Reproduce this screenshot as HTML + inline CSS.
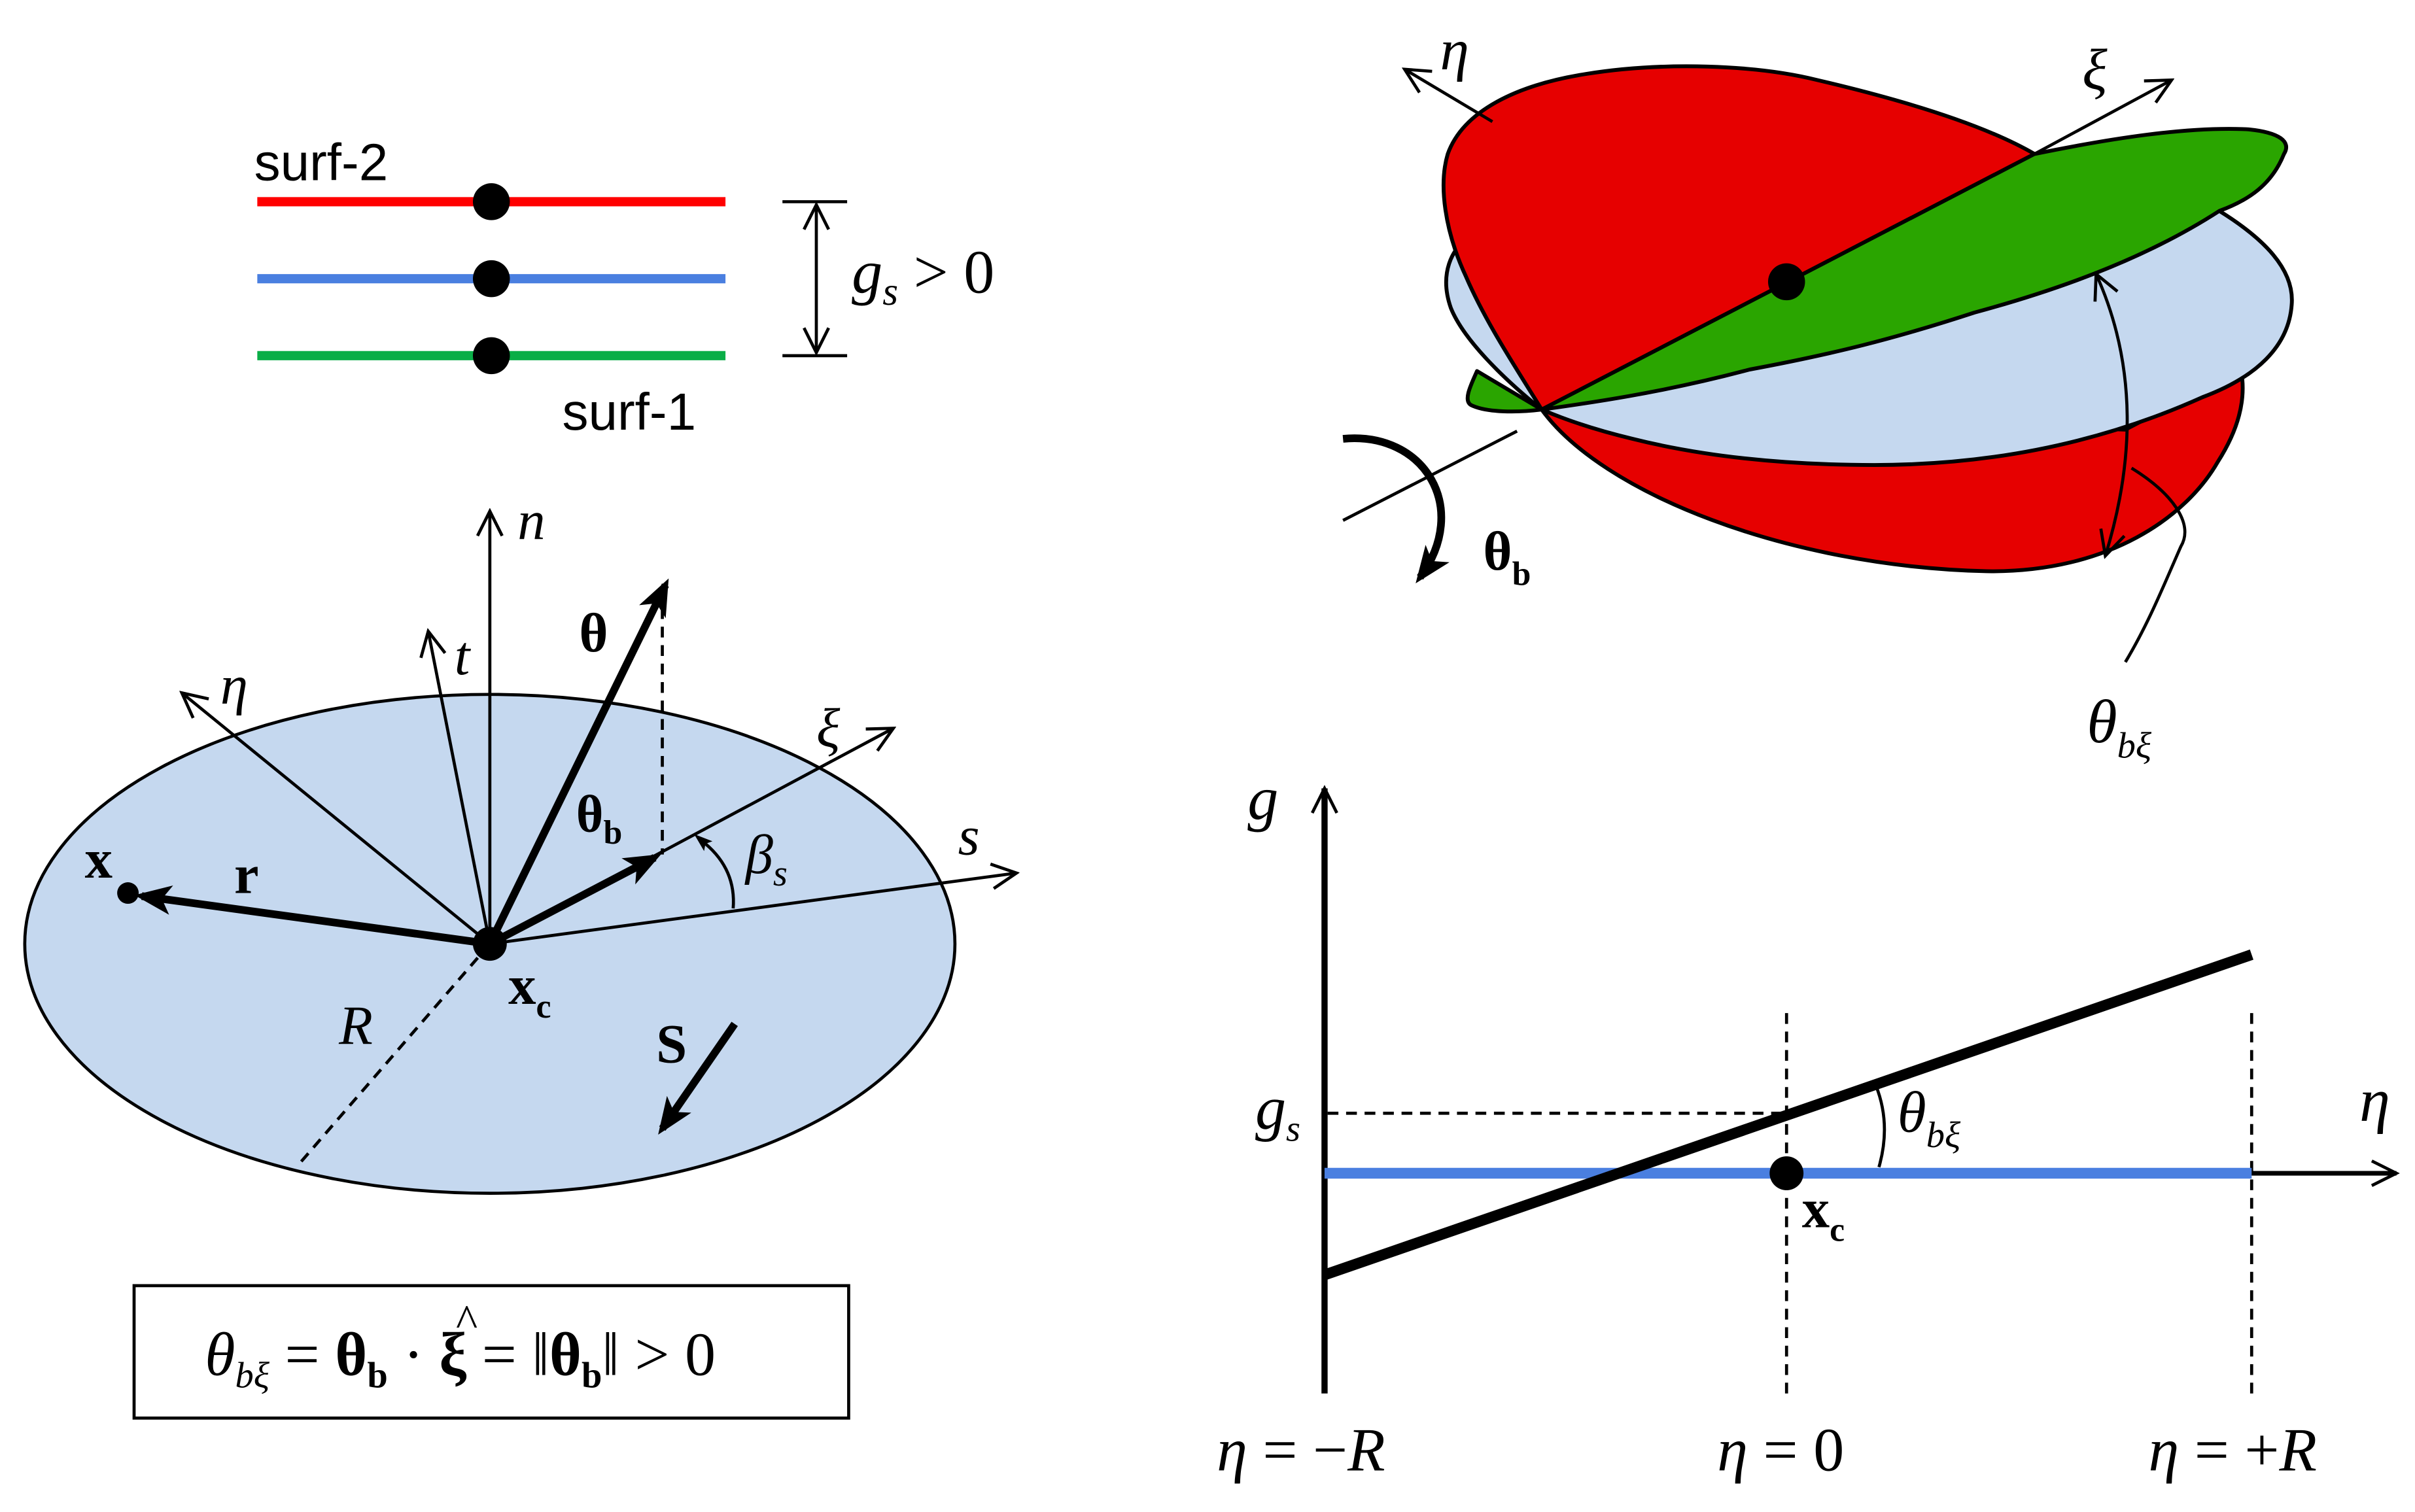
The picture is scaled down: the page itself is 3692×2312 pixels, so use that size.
<!DOCTYPE html>
<html><head><meta charset="utf-8"><style>
html,body{margin:0;padding:0;background:#fff}
svg{display:block}
text{font-family:"Liberation Serif",serif}
.i{font-style:italic}
.b{font-weight:bold}
.s{font-family:"Liberation Sans",sans-serif}
</style></head><body>
<svg width="3692" height="2312" viewBox="0 0 1568 982" xmlns="http://www.w3.org/2000/svg">
<defs>
<marker id="a" viewBox="0 0 20 20" refX="18" refY="10" markerWidth="20" markerHeight="20" markerUnits="userSpaceOnUse" orient="auto-start-reverse"><path d="M2,2 L18,10 L2,18" fill="none" stroke="#000" stroke-width="2"/></marker>
<marker id="f" viewBox="0 0 20 20" refX="16" refY="10" markerWidth="24" markerHeight="24" markerUnits="userSpaceOnUse" orient="auto"><path d="M0,2 L20,10 L0,18 L5,10 Z" fill="#000"/></marker>
<marker id="fs" viewBox="0 0 20 20" refX="4" refY="10" markerWidth="12" markerHeight="12" markerUnits="userSpaceOnUse" orient="auto-start-reverse"><path d="M0,3 L20,10 L0,17 L4,10 Z" fill="#000"/></marker>
</defs>
<rect width="1568" height="982" fill="#fff"/>

<!-- surf legend -->
<line x1="167" y1="131" x2="471" y2="131" stroke="#f00" stroke-width="6"/>
<line x1="167" y1="181" x2="471" y2="181" stroke="#4a7fe0" stroke-width="6"/>
<line x1="167" y1="231" x2="471" y2="231" stroke="#0aae47" stroke-width="6"/>
<circle cx="319" cy="131" r="12"/><circle cx="319" cy="181" r="12"/><circle cx="319" cy="231" r="12"/>
<text x="165" y="117" class="s" font-size="34">surf-2</text>
<text x="365" y="279" class="s" font-size="34">surf-1</text>
<line x1="508" y1="131" x2="550" y2="131" stroke="#000" stroke-width="2"/>
<line x1="508" y1="231" x2="550" y2="231" stroke="#000" stroke-width="2"/>
<line x1="530" y1="133" x2="530" y2="229" stroke="#000" stroke-width="2" marker-start="url(#a)" marker-end="url(#a)"/>
<text x="553" y="190" font-size="40"><tspan class="i">g</tspan><tspan class="i" font-size="26" dy="8">s</tspan><tspan dy="-8"> &gt; 0</tspan></text>

<!-- ellipse diagram -->
<ellipse cx="318" cy="613" rx="302" ry="162" fill="#c5d8ef" stroke="#000" stroke-width="2"/>
<g stroke="#000" stroke-width="2" fill="none">
<line x1="318" y1="613" x2="318" y2="332" marker-end="url(#a)"/>
<line x1="318" y1="613" x2="278" y2="410" marker-end="url(#a)"/>
<line x1="318" y1="613" x2="118" y2="450" marker-end="url(#a)"/>
<line x1="318" y1="613" x2="580" y2="473" marker-end="url(#a)"/>
<line x1="318" y1="613" x2="660" y2="567" marker-end="url(#a)"/>
<line x1="430" y1="395" x2="430" y2="555" stroke-dasharray="7,5"/>
<line x1="318" y1="613" x2="195" y2="755" stroke-dasharray="7,5"/>
<path d="M458,548 Q478,565 476,590" marker-start="url(#fs)"/>
</g>
<g stroke="#000" stroke-width="5" fill="none">
<line x1="318" y1="613" x2="432" y2="380" marker-end="url(#f)"/>
<line x1="318" y1="613" x2="425" y2="557" marker-end="url(#f)"/>
<line x1="318" y1="613" x2="92" y2="582" marker-end="url(#f)"/>
<line x1="477" y1="665" x2="430" y2="733" marker-end="url(#f)"/>
</g>
<circle cx="318" cy="613" r="11"/>
<circle cx="83" cy="580" r="7"/>
<text x="336" y="350" class="i" font-size="36">n</text>
<text x="295" y="438" class="i" font-size="36">t</text>
<text x="143" y="457" class="i" font-size="36">η</text>
<text x="376" y="423" class="b" font-size="36">θ</text>
<text x="530" y="485" class="i" font-size="36">ξ</text>
<text x="622" y="555" class="i" font-size="36">s</text>
<text x="484" y="567" font-size="36"><tspan class="i">β</tspan><tspan class="i" font-size="24" dy="8">s</tspan></text>
<text x="374" y="540" class="b" font-size="34">θ<tspan font-size="22" dy="8">b</tspan></text>
<text x="55" y="570" class="b" font-size="36">x</text>
<text x="152" y="580" class="b" font-size="36">r</text>
<text x="330" y="652" class="b" font-size="36">x<tspan font-size="22" dy="9">c</tspan></text>
<text x="220" y="678" class="i" font-size="36">R</text>
<text x="426" y="690" class="b" font-size="36">S</text>

<!-- formula box -->
<rect x="87" y="835" width="464" height="86" fill="#fff" stroke="#000" stroke-width="2"/>
<text x="133" y="893" font-size="40"><tspan class="i">θ</tspan><tspan class="i" font-size="24" dy="8">bξ</tspan><tspan dy="-8"> = </tspan><tspan class="b">θ</tspan><tspan class="b" font-size="24" dy="8">b</tspan><tspan dy="-8"> · </tspan><tspan class="b">ξ</tspan><tspan> = ‖</tspan><tspan class="b">θ</tspan><tspan class="b" font-size="24" dy="8">b</tspan><tspan dy="-8">‖ &gt; 0</tspan></text>
<text x="296" y="868" font-size="30">^</text>

<!-- 3D -->
<g stroke="#000" stroke-width="2.5" stroke-linejoin="round">
<path d="M1001,266 C1040,320 1160,368 1290,371 C1370,372 1420,335 1440,300 C1456,275 1458,255 1455,240 L1380,279 Z" fill="#e60000"/>
<path d="M1001,266 C975,245 950,220 942,200 C935,180 940,160 960,150 L1441,137 C1470,155 1490,175 1488,198 C1486,225 1465,245 1430,258 C1370,285 1300,302 1217,302 C1150,302 1100,295 1060,285 C1035,279 1015,272 1001,266 Z" fill="#c5d8ef"/>
<path d="M959,241 C955,250 950,260 955,263 C965,268 985,268 1001,266 Z" fill="#2aa500"/>
<path d="M1001,266 C985,240 965,210 952,180 C938,150 934,120 940,100 C950,72 985,55 1030,48 C1080,40 1140,42 1180,52 C1240,66 1290,82 1321,100 Z" fill="#e60000"/>
<path d="M1001,266 L1321,100 C1370,90 1420,82 1460,84 C1480,86 1488,92 1483,100 C1475,120 1460,130 1441,137 C1390,170 1330,190 1282,203 C1230,220 1190,230 1136,240 C1080,255 1030,262 1001,266 Z" fill="#2aa500"/>
</g>
<g stroke="#000" stroke-width="2" fill="none">
<line x1="969" y1="79" x2="912" y2="45" marker-end="url(#a)"/>
<line x1="1321" y1="100" x2="1410" y2="52" marker-end="url(#a)"/>
<line x1="872" y1="338" x2="985" y2="280"/>
<path d="M1361,178 C1380,220 1392,280 1367,361" marker-start="url(#a)" marker-end="url(#a)"/>
<path d="M1384,304 C1410,320 1425,340 1416,355 C1405,380 1395,405 1380,430"/>
</g>
<path d="M872,285 C925,280 955,330 922,375" stroke="#000" stroke-width="5" fill="none" marker-end="url(#f)"/>
<circle cx="1160" cy="183" r="12"/>
<text x="935" y="45" class="i" font-size="38">η</text>
<text x="1352" y="58" class="i" font-size="38">ξ</text>
<text x="963" y="370" class="b" font-size="36">θ<tspan font-size="22" dy="10">b</tspan></text>
<text x="1355" y="482" font-size="40"><tspan class="i">θ</tspan><tspan class="i" font-size="24" dy="10">bξ</tspan></text>

<!-- plot -->
<g stroke="#000" fill="none">
<line x1="860" y1="905" x2="860" y2="512" stroke-width="4" marker-end="url(#a)"/>
<line x1="862" y1="723" x2="1160" y2="723" stroke-width="2" stroke-dasharray="7,5"/>
<line x1="1160" y1="658" x2="1160" y2="905" stroke-width="2" stroke-dasharray="7,5"/>
<line x1="1462" y1="658" x2="1462" y2="905" stroke-width="2" stroke-dasharray="7,5"/>
<line x1="1460" y1="762" x2="1556" y2="762" stroke-width="3" marker-end="url(#a)"/>
<path d="M1218,705 Q1228,730 1220,758" stroke-width="2"/>
</g>
<line x1="860" y1="762" x2="1462" y2="762" stroke="#4a7fe0" stroke-width="7"/>
<line x1="860" y1="828" x2="1462" y2="620" stroke="#000" stroke-width="7"/>
<circle cx="1160" cy="762" r="11"/>
<text x="810" y="532" class="i" font-size="40">g</text>
<text x="815" y="733" font-size="40"><tspan class="i">g</tspan><tspan class="i" font-size="24" dy="8">s</tspan></text>
<text x="1532" y="728" class="i" font-size="40">η</text>
<text x="1232" y="735" font-size="38"><tspan class="i">θ</tspan><tspan class="i" font-size="24" dy="10">bξ</tspan></text>
<text x="1170" y="797" class="b" font-size="36">x<tspan font-size="22" dy="9">c</tspan></text>
<text x="790" y="955" font-size="40"><tspan class="i">η</tspan> = −<tspan class="i">R</tspan></text>
<text x="1115" y="955" font-size="40"><tspan class="i">η</tspan> = 0</text>
<text x="1395" y="955" font-size="40"><tspan class="i">η</tspan> = +<tspan class="i">R</tspan></text>
</svg>
</body></html>
